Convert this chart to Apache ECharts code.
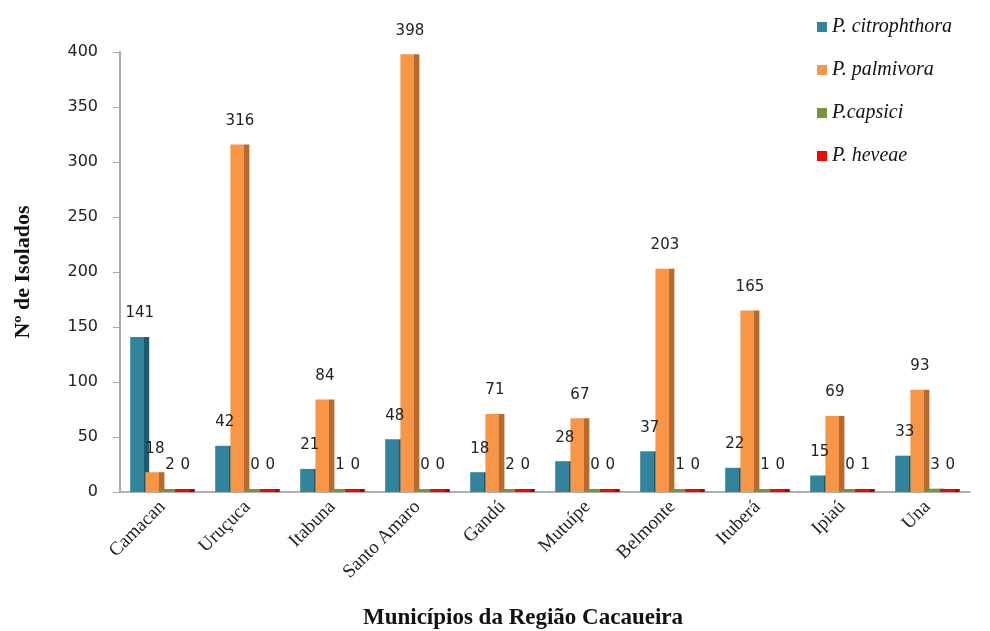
<!DOCTYPE html>
<html>
<head>
<meta charset="utf-8">
<script src="https://cdn.jsdelivr.net/npm/echarts@6/dist/echarts.min.js"></script>
<style>html,body{margin:0;padding:0;background:#fff}#c{width:990px;height:631px}</style>
</head>
<body>
<div id="c"></div>
<script>
var categories = ["Camacan","Uruçuca","Itabuna","Santo Amaro","Gandú","Mutuípe","Belmonte","Ituberá","Ipiaú","Una"];
var citrophthora = [141,42,21,48,18,28,37,22,15,33];
var palmivora = [18,316,84,398,71,67,203,165,69,93];
var capsici = [2,0,1,0,2,0,1,1,0,3];
var heveae = [0,0,0,0,0,0,0,0,1,0];
var yTicks = [0,50,100,150,200,250,300,350,400];
var seriesNames = ["P. citrophthora","P. palmivora","P.capsici","P. heveae"];

var colors = ["#31849B","#F79646","#77933C","#FF0000"];
var darks = ["#1F5A6B","#B8692C","#4F6327","#B00000"];
function grad(i){
  return new echarts.graphic.LinearGradient(0,0,1,0,[
    {offset:0,color:colors[i]},{offset:0.74,color:colors[i]},
    {offset:0.74,color:darks[i]},{offset:1,color:darks[i]}]);
}
var chart = echarts.init(document.getElementById('c'));
var dataSets = [citrophthora,palmivora,capsici,heveae];
var series = dataSets.map(function(d,i){
  return {
    name: seriesNames[i], type:'bar', data:d,
    barWidth:19, barGap:'-20%', barMinHeight: 3,
    itemStyle:{color:grad(i)},
    label:{show:true, position:'top', distance:16, fontFamily:'DejaVu Sans', fontSize:15, color:'#222',
      formatter: function(p){return String(p.value);}}
  };
});
chart.setOption({
  animation:false,
  color: colors,
  grid:{left:120, right:20, top:52, bottom:139},
  legend:{
    orient:'vertical', left:812, top:12, itemGap:23, itemWidth:10, itemHeight:10,
    icon:'rect',
    textStyle:{fontFamily:'Liberation Serif', fontStyle:'italic', fontSize:20, color:'#111'},
    data: seriesNames.map(function(n,i){return {name:n, itemStyle:{color:colors[i]}};})
  },
  title:{text:'Municípios da Região Cacaueira', left:518, top:602, textAlign:'center',
    textStyle:{fontFamily:'Liberation Serif', fontWeight:'bold', fontSize:23, color:'#111'}},
  xAxis:{
    type:'category', data:categories,
    axisLine:{show:true, lineStyle:{color:'#b0b0b0', width:2}},
    axisTick:{show:false},
    axisLabel:{rotate:45, margin:12, fontFamily:'Liberation Serif', fontSize:19, color:'#222', interval:0}
  },
  yAxis:{
    type:'value', min:0, max:400, interval:50,
    name:'Nº de Isolados', nameLocation:'middle', nameGap:86, nameRotate:90,
    nameTextStyle:{fontFamily:'Liberation Serif', fontWeight:'bold', fontSize:22, color:'#111'},
    axisLine:{show:true, lineStyle:{color:'#a8a8a8', width:2}},
    axisTick:{show:true, length:7, lineStyle:{color:'#a8a8a8'}},
    splitLine:{show:false},
    axisLabel:{margin:22, fontFamily:'DejaVu Sans', fontSize:16, color:'#222',
      formatter:function(v){return yTicks.indexOf(v)>=0 ? String(v) : '';}}
  },
  series: series
});
</script>
</body>
</html>
